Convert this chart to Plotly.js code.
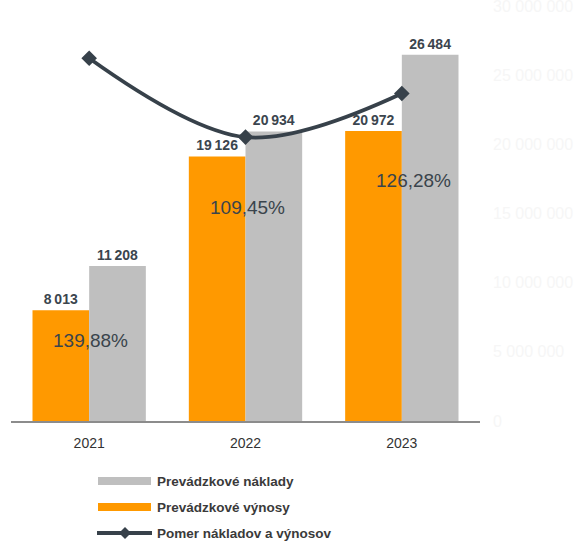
<!DOCTYPE html>
<html>
<head>
<meta charset="utf-8">
<script src="https://cdn.plot.ly/plotly-3.0.1.min.js"></script>
<style>html,body{margin:0;padding:0;background:#fff;}#chart{width:579px;height:543px;}</style>
</head>
<body>
<div id="chart"></div>
<script>
// ---- data ----
const years = ['2021', '2022', '2023'];
const revenues = [8013, 19126, 20972];      // Prevádzkové výnosy
const costs = [11208, 20934, 26484];         // Prevádzkové náklady
const ratio = [139.88, 109.45, 126.28];      // Pomer nákladov a výnosov (%)
const rightTickVals = [0, 5000, 10000, 15000, 20000, 25000, 30000];
const rightTickText = ['0', '5 000 000', '10 000 000', '15 000 000', '20 000 000', '25 000 000', '30 000 000'];
const legendNames = ['Prevádzkové náklady', 'Prevádzkové výnosy', 'Pomer nákladov a výnosov'];

// ---- styling / layout parameters ----
const W = 579, H = 543;
const M = {l: 11, r: 99, t: 6, b: 122};
const pw = W - M.l - M.r, ph = H - M.t - M.b;
const px = p => (p - M.l) / pw;
const py = p => (H - M.b - p) / ph;
const ORANGE = '#FF9900', GRAY = '#BFBFBF', DARK = '#37414A', TXT = '#3B454E';
const fmt = v => String(v).replace(/\B(?=(\d{3})+(?!\d))/g, '\u2009');
const fmtPct = v => v.toFixed(2).replace('.', ',') + '%';

const barFont = {family: 'Liberation Sans, Arial, sans-serif', size: 14, color: TXT, weight: 'bold'};

const traces = [
  {type: 'bar', x: years, y: revenues, name: legendNames[1], marker: {color: ORANGE},
   text: revenues.map(fmt), textposition: 'outside', textfont: barFont, cliponaxis: false,
   hoverinfo: 'none'},
  {type: 'bar', x: years, y: costs, name: legendNames[0], marker: {color: GRAY},
   text: costs.map(fmt), textposition: 'outside', textfont: barFont, cliponaxis: false,
   hoverinfo: 'none'},
  {type: 'scatter', mode: 'lines+markers', x: years, y: ratio, yaxis: 'y2', name: legendNames[2],
   line: {color: DARK, width: 3.8, shape: 'spline', smoothing: 1},
   marker: {symbol: 'diamond', size: 12, color: DARK}, cliponaxis: false, hoverinfo: 'none'}
];

// percentage label placement (layout positions, in primary-axis units, plus pixel shifts)
const pctLabelY = [5850, 15400, 17420];
const pctLabelShift = [1, 2, 12];
const annotations = ratio.map((v, i) => ({
  xref: 'x', yref: 'y', x: i, y: pctLabelY[i], xshift: pctLabelShift[i],
  text: fmtPct(v), showarrow: false,
  font: {family: 'Liberation Sans, Arial, sans-serif', size: 19, color: '#3A444C', weight: 500}
}));

// custom legend
const legFont = {family: 'Liberation Sans Narrow, Arial Narrow, Liberation Sans, Arial, sans-serif', size: 13.5, color: '#3A3A3A', weight: 'bold'};
const legRows = [481, 507, 533];
const shapes = [
  {type: 'rect', xref: 'paper', yref: 'paper', x0: px(98), x1: px(151), y0: py(485), y1: py(477),
   fillcolor: GRAY, line: {width: 0}},
  {type: 'rect', xref: 'paper', yref: 'paper', x0: px(98), x1: px(151), y0: py(511), y1: py(503),
   fillcolor: ORANGE, line: {width: 0}},
  {type: 'line', xref: 'paper', yref: 'paper', x0: px(97), x1: px(152), y0: py(533), y1: py(533),
   line: {color: DARK, width: 4}},
  {type: 'path', xref: 'paper', yref: 'paper',
   path: `M ${px(125)} ${py(527)} L ${px(131)} ${py(533)} L ${px(125)} ${py(539)} L ${px(119)} ${py(533)} Z`,
   fillcolor: DARK, line: {color: DARK, width: 0}}
];
legendNames.forEach((n, i) => annotations.push({
  xref: 'paper', yref: 'paper', x: px(155), y: py(legRows[i]), xanchor: 'left', yanchor: 'middle',
  text: n, showarrow: false, font: legFont
}));

const layout = {
  width: W, height: H,
  margin: M,
  paper_bgcolor: '#FFFFFF', plot_bgcolor: '#FFFFFF',
  showlegend: false,
  barmode: 'group', bargap: 0.275, bargroupgap: 0,
  xaxis: {type: 'category', range: [-0.5, 2.5], showline: true, linecolor: '#8C8C8C', linewidth: 2,
          ticks: '', showgrid: false, zeroline: false, ticklabelstandoff: 8,
          tickfont: {family: 'Liberation Sans, Arial, sans-serif', size: 14, color: '#333333'}},
  yaxis: {range: [0, 30002], side: 'right', showgrid: false, zeroline: false, showline: false,
          tickmode: 'array', tickvals: rightTickVals, ticktext: rightTickText,
          ticklabelstandoff: 12, ticklabeloverflow: 'allow',
          tickfont: {family: 'Liberation Sans, Arial, sans-serif', size: 16, color: '#F6F6F6'}},
  yaxis2: {range: [0, 160], overlaying: 'y', side: 'right', visible: false, showgrid: false},
  shapes: shapes,
  annotations: annotations
};

Plotly.newPlot('chart', traces, layout, {displayModeBar: false, staticPlot: true});
</script>
</body>
</html>
